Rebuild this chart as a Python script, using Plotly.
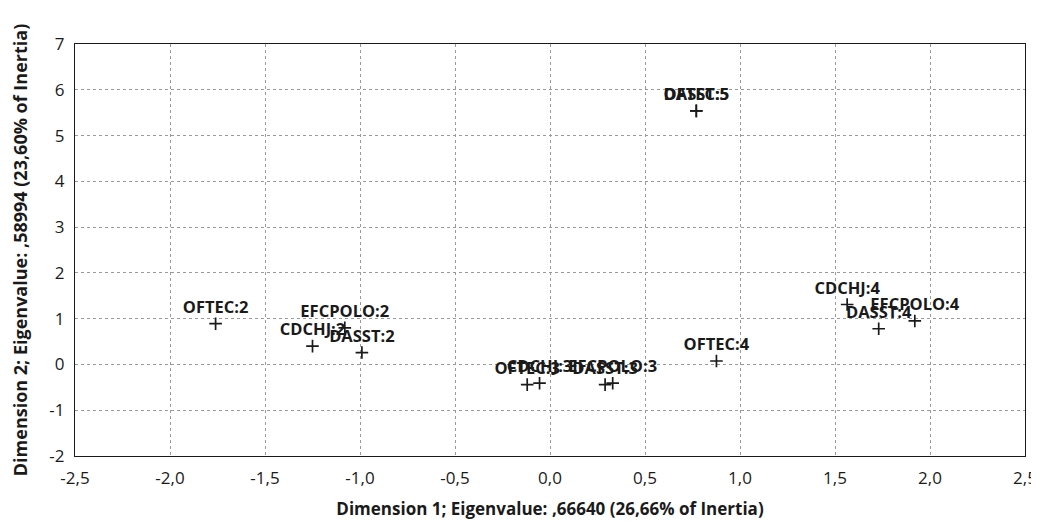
import plotly.graph_objects as go

labels = ["OFTEC:2", "EFCPOLO:2", "CDCHJ:2", "DASST:2",
          "OFTEC:3", "CDCHJ:3", "DASST:3", "EFCPOLO:3",
          "OFTEC:4", "CDCHJ:4", "DASST:4", "EFCPOLO:4",
          "DASST:5", "OFTEC:5"]
dim1 = [-1.76, -1.08, -1.25, -0.99,
        -0.12, -0.055, 0.29, 0.33,
        0.876, 1.564, 1.73, 1.92,
        0.77, 0.77]
dim2 = [0.89, 0.80, 0.40, 0.26,
        -0.44, -0.41, -0.44, -0.41,
        0.075, 1.31, 0.78, 0.95,
        5.54, 5.54]

x_ticks = [-2.5, -2.0, -1.5, -1.0, -0.5, 0.0, 0.5, 1.0, 1.5, 2.0, 2.5]
y_ticks = [-2, -1, 0, 1, 2, 3, 4, 5, 6, 7]

fig = go.Figure(go.Scatter(
    x=dim1, y=dim2, text=labels, mode="markers+text",
    textposition="top center",
    marker=dict(symbol="cross-thin", size=9, line=dict(width=1.7, color="#1a1a1a"), color="#1a1a1a"),
    textfont=dict(family="Open Sans", size=16.5, color="#1a1a1a", weight="bold"),
    cliponaxis=False, showlegend=False,
))

axis_common = dict(
    showgrid=True, gridcolor="#9a9a9a", griddash="dot", gridwidth=1,
    zeroline=False, showline=True, linecolor="#1a1a1a", linewidth=1.2, mirror=True,
    ticks="", automargin=False, ticklabelstandoff=6,
    tickfont=dict(family="Open Sans", size=17, color="#1a1a1a"),
)

fig.update_xaxes(range=[-2.5, 2.5], tickvals=x_ticks,
                 ticktext=[f"{v:.1f}".replace(".", ",") for v in x_ticks],
                 title=dict(text="Dimension 1; Eigenvalue: ,66640 (26,66% of Inertia)",
                            font=dict(family="Open Sans", size=17, color="#1a1a1a", weight="bold"),
                            standoff=15),
                 **axis_common)
fig.update_yaxes(range=[-2, 7], tickvals=y_ticks,
                 ticktext=[str(v) for v in y_ticks],
                 title=dict(text="Dimension 2; Eigenvalue: ,58994 (23,60% of Inertia)",
                            font=dict(family="Open Sans", size=18, color="#1a1a1a", weight="bold"),
                            standoff=24),
                 **axis_common)

# page body has an 8px margin, so offset the figure accordingly
fig.update_layout(
    width=1031, height=513,
    margin=dict(l=67, r=14, t=36, b=65),
    plot_bgcolor="white", paper_bgcolor="white",
)

fig.write_html("out.html")
